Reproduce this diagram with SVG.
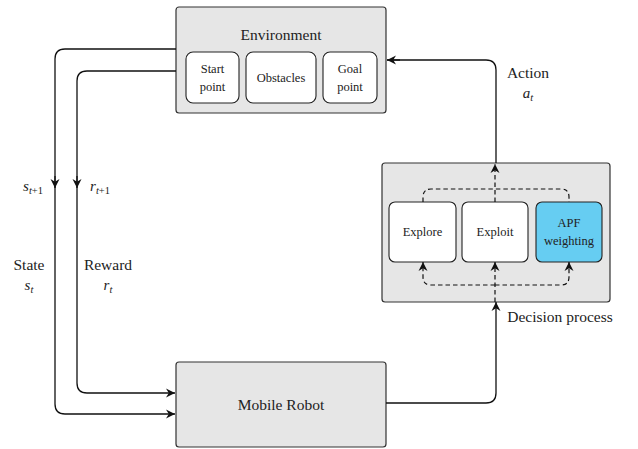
<svg xmlns="http://www.w3.org/2000/svg" width="638" height="449" viewBox="0 0 638 449">
  <defs>
    <marker id="stealth" markerUnits="userSpaceOnUse" markerWidth="12" markerHeight="12" viewBox="-10 -6 12 12" refX="0" refY="0" orient="auto">
      <path d="M0,0 L-9,-4.5 L-6.2,0 L-9,4.5 Z" fill="#111"/>
    </marker>
    <style>
      .outer { fill: #e6e6e6; stroke: #333; stroke-width: 1.2; }
      .inner { fill: #fff; stroke: #222; stroke-width: 1.1; }
      .apf { fill: #66cdf2; stroke: #222; stroke-width: 1.1; }
      .wire { fill: none; stroke: #111; stroke-width: 1.3; }
      .dash { fill: none; stroke: #111; stroke-width: 1.2; stroke-dasharray: 4.5 3; }
      .arr { marker-end: url(#stealth); }
      text { font-family: "Liberation Serif", "DejaVu Serif", serif; fill: #222; text-anchor: middle; }
      .big { font-size: 15.5px; }
      .small { font-size: 12.5px; }
      .math { font-style: italic; font-size: 15px; }
      .sub { font-size: 10.5px; }
    </style>
  </defs>

  <g id="environment">
    <rect class="outer" x="176" y="7" width="210" height="106" rx="3"/>
    <text class="big" x="281" y="40">Environment</text>
  </g>
  <g id="start-point">
    <rect class="inner" x="186" y="52" width="53" height="51" rx="7"/>
    <text class="small" x="212.5" y="73">Start</text>
    <text class="small" x="212.5" y="91">point</text>
  </g>
  <g id="obstacles">
    <rect class="inner" x="246" y="52" width="70" height="51" rx="7"/>
    <text class="small" x="281" y="82">Obstacles</text>
  </g>
  <g id="goal-point">
    <rect class="inner" x="323" y="52" width="54" height="51" rx="7"/>
    <text class="small" x="350" y="73">Goal</text>
    <text class="small" x="350" y="91">point</text>
  </g>

  <g id="decision">
    <rect class="outer" x="382" y="163" width="228" height="139" rx="3"/>
    <text class="big" x="560" y="322">Decision process</text>
  </g>
  <g id="explore">
    <rect class="inner" x="389" y="202" width="67" height="60" rx="6"/>
    <text class="small" x="422.5" y="236">Explore</text>
  </g>
  <g id="exploit">
    <rect class="inner" x="462" y="202" width="66" height="60" rx="6"/>
    <text class="small" x="495" y="236">Exploit</text>
  </g>
  <g id="apf">
    <rect class="apf" x="536" y="202" width="66" height="60" rx="6"/>
    <text class="small" x="569" y="227">APF</text>
    <text class="small" x="569" y="245">weighting</text>
  </g>

  <g id="mobile-robot">
    <rect class="outer" x="176" y="362" width="210" height="85" rx="3"/>
    <text class="big" x="281" y="410">Mobile Robot</text>
  </g>

  <g id="connectors">
    <!-- state feedback -->
    <path class="wire arr" d="M176,49 H65 Q55,49 55,59 V404 Q55,414 65,414 H175"/>
    <path class="wire arr" d="M55,176 V188"/>
    <!-- reward feedback -->
    <path class="wire arr" d="M176,71 H87 Q77,71 77,81 V383 Q77,393 87,393 H175"/>
    <path class="wire arr" d="M77,176 V188"/>
    <!-- action -->
    <path class="wire" d="M496,163 V70 Q496,60 486,60 H387"/>
    <path class="wire arr" d="M400,60 H387"/>
    <!-- robot to decision process -->
    <path class="wire arr" d="M386,403 H486 Q496,403 496,393 V302"/>
    <!-- internal dashed flow -->
    <path class="dash arr" d="M495,202 V164"/>
    <path class="dash" d="M423,202 V197 Q423,189 431,189 H561 Q569,189 569,197 V202"/>
    <path class="dash arr" d="M495,302 V262"/>
    <path class="dash arr" d="M495,285 H431 Q423,285 423,277 V262"/>
    <path class="dash arr" d="M495,285 H561 Q569,285 569,277 V262"/>
  </g>

  <g id="labels">
    <text class="math" x="33" y="191">s<tspan class="sub" font-style="italic" dy="3">t</tspan><tspan class="sub" font-style="normal">+1</tspan></text>
    <text class="math" x="100" y="191">r<tspan class="sub" font-style="italic" dy="3">t</tspan><tspan class="sub" font-style="normal">+1</tspan></text>
    <text class="big" x="29" y="270">State</text>
    <text class="math" x="29" y="290">s<tspan class="sub" dy="3">t</tspan></text>
    <text class="big" x="108" y="270">Reward</text>
    <text class="math" x="108" y="290">r<tspan class="sub" dy="3">t</tspan></text>
    <text class="big" x="528" y="78">Action</text>
    <text class="math" x="528" y="98">a<tspan class="sub" dy="3">t</tspan></text>
  </g>
</svg>
